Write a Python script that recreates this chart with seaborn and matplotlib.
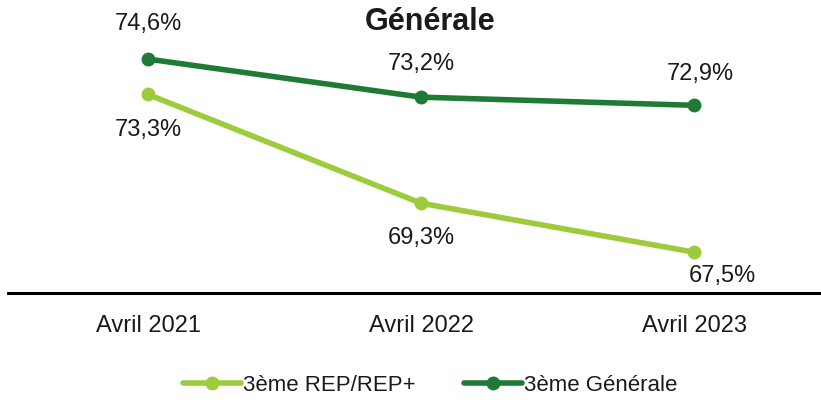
import numpy as np
import pandas as pd
import matplotlib
matplotlib.use("Agg")
import matplotlib.pyplot as plt
import seaborn as sns

# data
periods = ["Avril 2021", "Avril 2022", "Avril 2023"]
rep_vals = [73.3, 69.3, 67.5]
gen_vals = [74.6, 73.2, 72.9]
series_names = ["3ème REP/REP+", "3ème Générale"]

sns.set_style("white")
plt.rcParams["font.family"] = ["Liberation Sans", "DejaVu Sans"]
plt.rcParams["text.color"] = "#1a1a1a"
plt.rcParams["xtick.color"] = "#1a1a1a"

light = "#9DCB3B"
dark = "#1F7A35"

df = pd.DataFrame({
    "period": periods * 2,
    "value": rep_vals + gen_vals,
    "serie": [series_names[0]] * 3 + [series_names[1]] * 3,
})

fig = plt.figure(figsize=(8.21, 4.0), dpi=100)
ax = fig.add_axes([0.01, 0.2675, 0.99, 0.68])

sns.lineplot(data=df, x="period", y="value", hue="serie",
             palette=[light, dark], marker="o", markersize=10,
             markeredgewidth=0, linewidth=4, ax=ax, legend=False)

# value labels (offset in pixels)
offsets_rep = [(0, -36), (0, -35), (28, -24)]
offsets_gen = [(0, 35), (0, 33), (6, 31)]
for i, v in enumerate(rep_vals):
    ax.annotate(f"{v:.1f}%".replace(".", ","), (i, v), xytext=offsets_rep[i],
                textcoords="offset pixels", ha="center", va="center", fontsize=17)
for i, v in enumerate(gen_vals):
    ax.annotate(f"{v:.1f}%".replace(".", ","), (i, v), xytext=offsets_gen[i],
                textcoords="offset pixels", ha="center", va="center", fontsize=17)

ax.set_xlim(-0.512, 2.464)
ax.set_ylim(66, 76)
ax.set_xlabel("")
ax.set_ylabel("")
ax.set_yticks([])
ax.tick_params(axis="x", length=0, pad=16, labelsize=17)
for s in ["top", "right", "left"]:
    ax.spines[s].set_visible(False)
ax.spines["bottom"].set_linewidth(2.2)
ax.spines["bottom"].set_color("black")

fig.text(0.524, 0.945, "Générale", ha="center", va="center",
         fontsize=22, fontweight="bold")

handles = [plt.Line2D([], [], color=c, linewidth=4, marker="o",
                      markersize=10, markeredgewidth=0) for c in (light, dark)]
fig.legend(handles, series_names, loc="center", bbox_to_anchor=(0.524, 0.037),
           ncol=2, frameon=False, fontsize=16, handlelength=2.6,
           handletextpad=0.1, columnspacing=2.2)

fig.savefig("out.png", dpi=100)
